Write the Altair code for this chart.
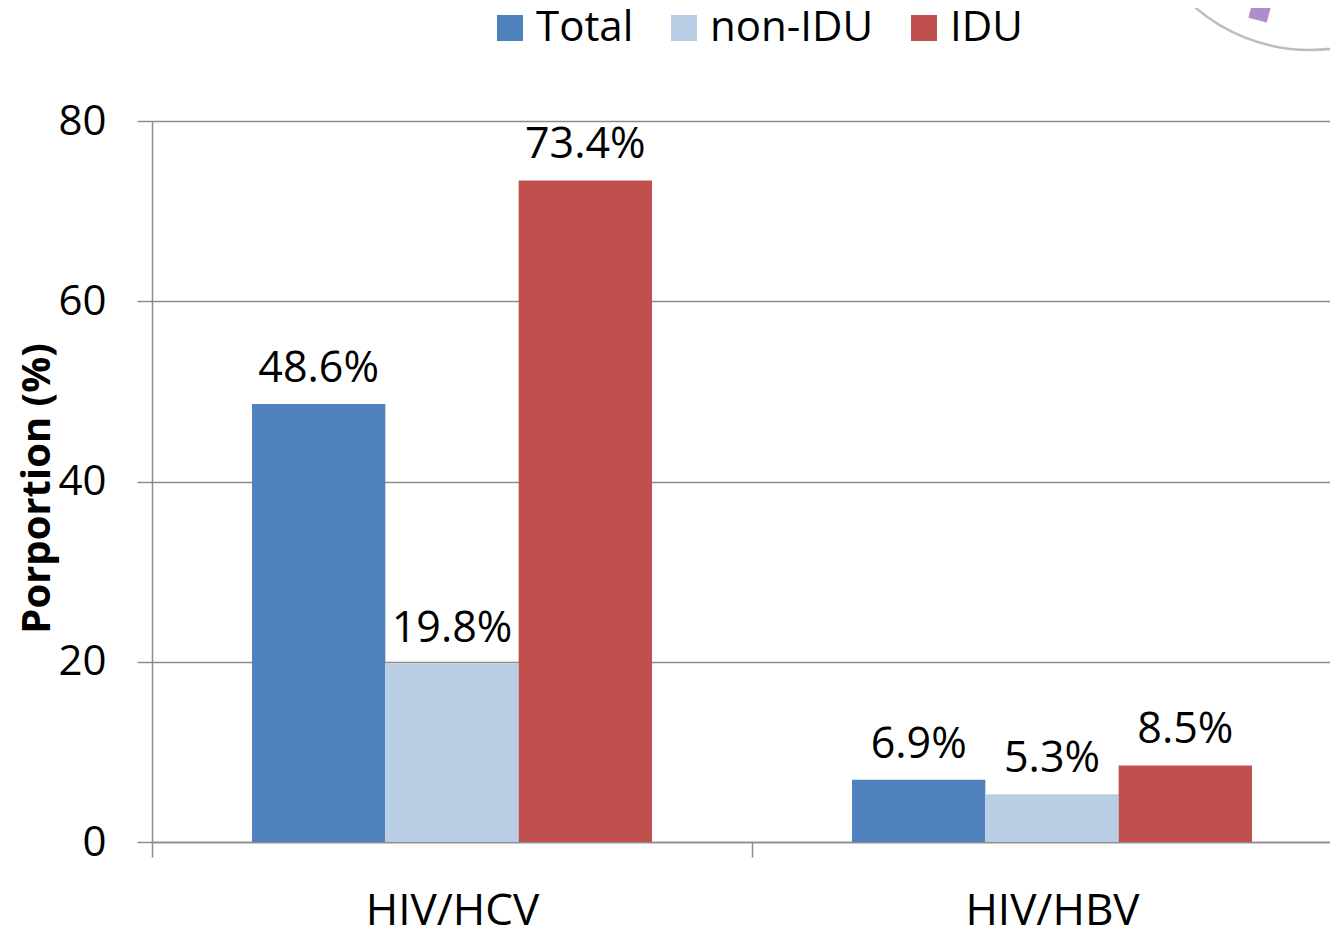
import altair as alt
import pandas as pd

categories = ["HIV/HCV", "HIV/HBV"]
groups = ["Total", "non-IDU", "IDU"]
hcv_values = [48.6, 19.8, 73.4]
hbv_values = [6.9, 5.3, 8.5]
colors = ["#4F81BD", "#B9CDE5", "#C0504D"]
y_ticks = [0, 20, 40, 60, 80]

rows = []
for cat, vals in zip(categories, [hcv_values, hbv_values]):
    for g, v in zip(groups, vals):
        rows.append({"cat": cat, "grp": g, "val": v, "label": f"{v}%"})
df = pd.DataFrame(rows)

FONT = "Open Sans"
GRID = "#8c8c8c"

x_enc = alt.X(
    "cat:N",
    sort=categories,
    scale=alt.Scale(range=[0, 1200], paddingInner=1 / 3, paddingOuter=1 / 6),
    axis=alt.Axis(
        title=None,
        ticks=True,
        tickSize=15,
        tickColor=GRID,
        tickWidth=1.5,
        tickOffset=-300,
        labelOffset=300,
        domain=True,
        domainColor=GRID,
        domainWidth=1.5,
        grid=False,
        labelFont=FONT,
        labelFontSize=44,
        labelColor="#000000",
        labelBaseline="alphabetic",
        labelPadding=67,
        labelAngle=0,
    ),
)
xoff_enc = alt.XOffset("grp:N", sort=groups, scale=alt.Scale(paddingInner=0, paddingOuter=0))
y_enc = alt.Y(
    "val:Q",
    scale=alt.Scale(domain=[0, 80], nice=False),
    axis=alt.Axis(
        values=y_ticks,
        title="Porportion (%)",
        titleFont=FONT,
        titleFontSize=40,
        titleFontWeight="bold",
        titleColor="#000000",
        titleAngle=270,
        titleX=-115,
        titleY=367,
        titleAlign="center",
        titleBaseline="middle",
        grid=True,
        gridColor=GRID,
        gridWidth=1.5,
        domain=True,
        domainColor=GRID,
        domainWidth=1.5,
        ticks=True,
        tickSize=15,
        tickColor=GRID,
        tickWidth=1.5,
        labelFont=FONT,
        labelFontSize=42,
        labelColor="#000000",
        labelPadding=31,
    ),
)

bars = alt.Chart(df).mark_bar().encode(
    x=x_enc,
    xOffset=xoff_enc,
    y=y_enc,
    color=alt.Color(
        "grp:N",
        sort=groups,
        scale=alt.Scale(domain=groups, range=colors),
        legend=alt.Legend(
            title=None,
            orient="none",
            direction="horizontal",
            legendX=337,
            legendY=-114,
            symbolType="square",
            symbolSize=676,
            symbolStrokeWidth=0,
            symbolOpacity=1,
            labelFont=FONT,
            labelFontSize=42,
            labelColor="#000000",
            labelOffset=5,
            labelLimit=400,
            columnPadding=29,
        ),
    ),
)

labels = alt.Chart(df).mark_text(
    baseline="alphabetic", align="center", dy=-22, font=FONT, fontSize=43, color="#000000"
).encode(x=x_enc, xOffset=xoff_enc, y=y_enc, text="label:N")

deco = alt.Chart(pd.DataFrame({"a": [0]})).mark_circle(
    fill="#ffffff", stroke="#bdbdbd", strokeWidth=2.5, opacity=1
).encode(x=alt.value(1310 - 152), y=alt.value(-126 - 121), size=alt.value(123904))

logo = alt.Chart(pd.DataFrame({"a": [0]})).mark_point(
    shape="square", filled=True, color="#B08CCB", opacity=1, angle=15
).encode(x=alt.value(1260 - 152), y=alt.value(11 - 121), size=alt.value(360))

chart = (
    alt.layer(deco, logo, bars, labels)
    .properties(
        width=1178,
        height=721,
        autosize=alt.AutoSizeParams(type="none"),
        padding={"left": 144, "top": 113, "right": 0, "bottom": 90},
        background="#ffffff",
    )
    .configure_view(stroke=None)
)

chart.save("out.html", embed_options={"renderer": "svg", "actions": False})
